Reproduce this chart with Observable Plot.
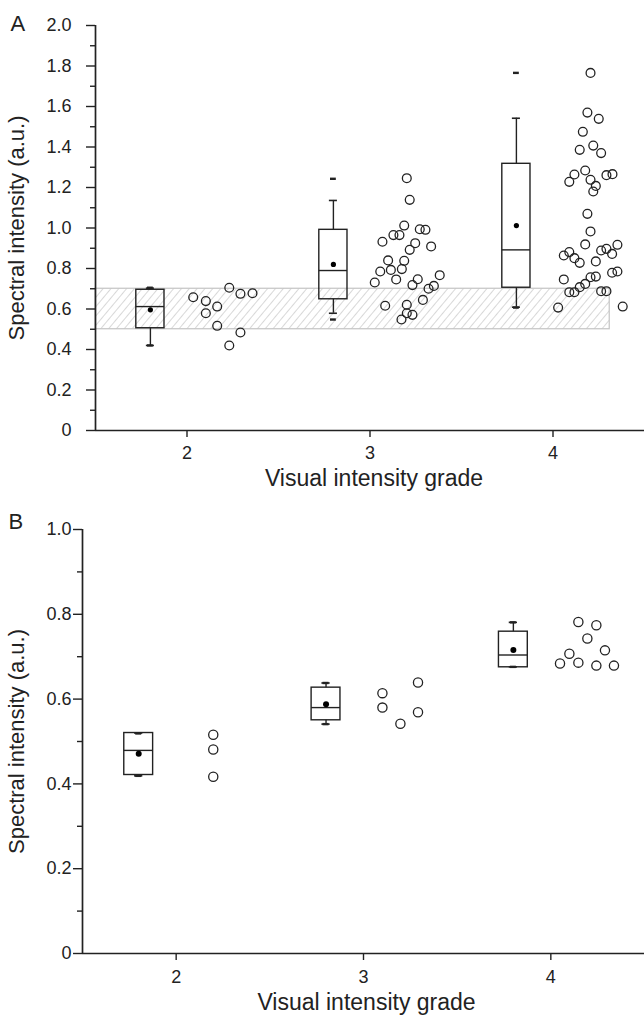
<!DOCTYPE html>
<html><head><meta charset="utf-8">
<script src="https://cdn.jsdelivr.net/npm/d3@7"></script>
<script src="https://cdn.jsdelivr.net/npm/@observablehq/plot@0.6"></script>
<style>body{margin:0;background:#fff;} svg{display:block;}</style>
</head><body><div id="chart"></div>
<script>
// ---------- shared ----------
const grades = [2, 3, 4];
const xTicks = [2, 3, 4];
const xLabel = "Visual intensity grade";
const yLabel = "Spectral intensity (a.u.)";

// ---------- Panel A ----------
const aYMajor = [0, 0.2, 0.4, 0.6, 0.8, 1.0, 1.2, 1.4, 1.6, 1.8, 2.0];
const aYMinor = [0.1, 0.3, 0.5, 0.7, 0.9, 1.1, 1.3, 1.5, 1.7, 1.9];
const aQ1 = [0.505, 0.648, 0.705];
const aMedian = [0.612, 0.790, 0.892];
const aQ3 = [0.695, 0.991, 1.317];
const aMean = [0.596, 0.820, 1.012];
const aWhiskerLo = [0.420, 0.579, 0.609];
const aWhiskerHi = [0.703, 1.136, 1.542];
const aMin = [0.420, 0.548, 0.607];
const aMax = [0.705, 1.243, 1.766];
const aRefBand = [0.5, 0.7];          // reference range (hatched)
const aRefBandX = [1.5, 4.31];

const a2x = [2.034, 2.103, 2.165, 2.103, 2.165, 2.231, 2.292, 2.358, 2.292, 2.231];
const a2y = [0.658, 0.639, 0.612, 0.579, 0.517, 0.705, 0.675, 0.678, 0.484, 0.420];
const a3x = [3.187, 3.128, 3.161, 3.272, 3.303, 3.068, 3.247, 3.217, 3.334, 3.099, 3.187, 3.056, 3.114, 3.174, 3.143, 3.026, 3.261, 3.232, 3.381, 3.349, 3.320, 3.289, 3.083, 3.201, 3.201, 3.232, 3.172, 3.201, 3.217];
const a3y = [1.012, 0.965, 0.965, 0.994, 0.991, 0.932, 0.925, 0.892, 0.909, 0.840, 0.838, 0.785, 0.793, 0.797, 0.746, 0.731, 0.747, 0.718, 0.767, 0.714, 0.700, 0.645, 0.616, 0.621, 0.579, 0.571, 0.548, 1.246, 1.139];
const a4x = [4.205, 4.188, 4.250, 4.163, 4.146, 4.220, 4.263, 4.176, 4.117, 4.089, 4.205, 4.234, 4.220, 4.292, 4.325, 4.188, 4.205,
             4.176, 4.059, 4.089, 4.117, 4.146, 4.234, 4.263, 4.292, 4.323, 4.352, 4.059, 4.205, 4.234, 4.176, 4.146, 4.117, 4.089, 4.263, 4.292, 4.323, 4.352, 4.028, 4.381];
const a4y = [1.766, 1.570, 1.539, 1.475, 1.386, 1.407, 1.370, 1.284, 1.264, 1.228, 1.238, 1.208, 1.180, 1.261, 1.266, 1.070, 0.983,
             0.919, 0.864, 0.881, 0.851, 0.828, 0.835, 0.889, 0.897, 0.872, 0.917, 0.746, 0.757, 0.760, 0.724, 0.708, 0.683, 0.683, 0.688, 0.688, 0.779, 0.785, 0.607, 0.612];

// ---------- Panel B ----------
const bYMajor = [0, 0.2, 0.4, 0.6, 0.8, 1.0];
const bYMinor = [0.1, 0.3, 0.5, 0.7, 0.9];
const bQ1 = [0.421, 0.550, 0.675];
const bMedian = [0.479, 0.580, 0.704];
const bQ3 = [0.520, 0.627, 0.759];
const bMean = [0.471, 0.588, 0.716];
const bWhiskerLo = [0.419, 0.541, 0.676];
const bWhiskerHi = [0.520, 0.638, 0.781];
const bMin = [0.419, 0.541, 0.676];
const bMax = [0.519, 0.638, 0.781];

const b2x = [2.198, 2.198, 2.198];
const b2y = [0.516, 0.481, 0.417];
const b3x = [3.101, 3.101, 3.197, 3.291, 3.291];
const b3y = [0.614, 0.580, 0.542, 0.639, 0.569];
const b4x = [4.147, 4.243, 4.195, 4.289, 4.099, 4.049, 4.147, 4.243, 4.337];
const b4y = [0.782, 0.774, 0.743, 0.715, 0.707, 0.684, 0.686, 0.679, 0.679];

// ---------- helpers ----------
const FONT = "'Liberation Sans', Arial, Helvetica, sans-serif";
const INK = "#222";
const BOX_OFF = 0.2, BOX_HALF = 0.077, CAP_HALF = 0.022, DASH_HALF = 0.016;

function boxRows(q1, med, q3, mean, wlo, whi, mn, mx) {
  return grades.map((g, i) => ({c: g - BOX_OFF, q1: q1[i], med: med[i], q3: q3[i], mean: mean[i], wlo: wlo[i], whi: whi[i], mn: mn[i], mx: mx[i]}));
}
function pts(xs, ys) { return xs.map((x, i) => ({x, y: ys[i]})); }

function panel(o) {
  const boxes = o.boxes;
  const marks = [];
  if (o.band) {
    marks.push(Plot.rect([o.band], {x1: d => d.x1, x2: d => d.x2, y1: d => d.y1, y2: d => d.y2, fill: "url(#hatchA)", stroke: "#c4c4c4", strokeWidth: 1.2}));
  }
  marks.push(
    Plot.ruleX(boxes, {x: "c", y1: "wlo", y2: "q1", stroke: INK, strokeWidth: 1.4}),
    Plot.ruleX(boxes, {x: "c", y1: "q3", y2: "whi", stroke: INK, strokeWidth: 1.4}),
    Plot.ruleY(boxes, {y: "wlo", x1: d => d.c - CAP_HALF, x2: d => d.c + CAP_HALF, stroke: INK, strokeWidth: 1.6}),
    Plot.ruleY(boxes, {y: "whi", x1: d => d.c - CAP_HALF, x2: d => d.c + CAP_HALF, stroke: INK, strokeWidth: 1.6}),
    Plot.ruleY(boxes, {y: "mn", x1: d => d.c - DASH_HALF, x2: d => d.c + DASH_HALF, stroke: INK, strokeWidth: 2.4}),
    Plot.ruleY(boxes, {y: "mx", x1: d => d.c - DASH_HALF, x2: d => d.c + DASH_HALF, stroke: INK, strokeWidth: 2.4}),
    Plot.rect(boxes, {x1: d => d.c - BOX_HALF, x2: d => d.c + BOX_HALF, y1: "q1", y2: "q3", fill: "none", stroke: INK, strokeWidth: 1.4}),
    Plot.ruleY(boxes, {y: "med", x1: d => d.c - BOX_HALF, x2: d => d.c + BOX_HALF, stroke: INK, strokeWidth: 1.4}),
    Plot.dot(boxes, {x: "c", y: "mean", r: o.meanR, fill: "#000", stroke: "none"}),
    Plot.dot(o.points, {x: "x", y: "y", r: o.pointR, fill: "none", stroke: INK, strokeWidth: 1.3}),
    // axes
    Plot.axisY({ticks: o.yMajor, tickSize: 9, tickPadding: o.yPad, tickFormat: d => d === 0 ? "0" : d.toFixed(1), fontSize: o.tickFont, stroke: INK, strokeWidth: 1.4, label: null}),
    Plot.axisY({ticks: o.yMinor, tickSize: 5, tickFormat: () => "", stroke: INK, strokeWidth: 1.4, label: null}),
    Plot.axisX({ticks: xTicks, tickSize: 7, tickPadding: o.xPad, tickFormat: d => String(d), fontSize: o.tickFont, stroke: INK, strokeWidth: 1.4, label: null}),
    Plot.ruleX([1.5], {stroke: INK, strokeWidth: 1.7}),
    Plot.ruleY([0], {stroke: INK, strokeWidth: 1.7}),
    Plot.text([o.letter], {frameAnchor: "top-left", dx: o.letterDx, dy: o.letterDy, textAnchor: "start", lineAnchor: "middle", fontSize: 22, fill: INK}),
    Plot.text([yLabel], {frameAnchor: "left", rotate: -90, dx: o.yLabDx, textAnchor: "middle", lineAnchor: "middle", fontSize: 22, fill: INK}),
    Plot.text([xLabel], {frameAnchor: "bottom", dx: o.xLabDx, dy: o.xLabDy, textAnchor: "middle", lineAnchor: "middle", fontSize: 23, fill: INK})
  );
  const svg = Plot.plot({
    width: 644, height: o.height,
    marginLeft: o.ml, marginRight: 0, marginTop: o.mt, marginBottom: o.mb,
    x: {domain: [1.5, 4.5], label: null},
    y: {domain: o.yDomain, label: null},
    style: {fontFamily: FONT, background: "#fff", color: INK, overflow: "visible"},
    marks
  });
  if (o.band) {
    d3.select(svg).insert("defs", ":first-child").html(
      '<pattern id="hatchA" patternUnits="userSpaceOnUse" width="6" height="6" patternTransform="rotate(40)">' +
      '<rect width="6" height="6" fill="#fff"/><line x1="0" y1="0" x2="0" y2="6" stroke="#b8b8b8" stroke-width="1.1"/></pattern>');
  }
  return svg;
}

const chart = document.getElementById("chart");
chart.appendChild(panel({
  letter: "A", height: 490, ml: 95, mt: 25, mb: 60, yDomain: [0, 2],
  yMajor: aYMajor, yMinor: aYMinor, yPad: 15, xPad: 8.5, tickFont: 18,
  boxes: boxRows(aQ1, aMedian, aQ3, aMean, aWhiskerLo, aWhiskerHi, aMin, aMax),
  points: [...pts(a2x, a2y), ...pts(a3x, a3y), ...pts(a4x, a4y)],
  band: {x1: aRefBandX[0], x2: aRefBandX[1], y1: aRefBand[0], y2: aRefBand[1]},
  meanR: 2.6, pointR: 4.4,
  letterDx: -85, letterDy: -2, yLabDx: -79, xLabDx: 4, xLabDy: 48
}));
chart.appendChild(panel({
  letter: "B", height: 525, ml: 82, mt: 39, mb: 62, yDomain: [0, 1],
  yMajor: bYMajor, yMinor: bYMinor, yPad: 2, xPad: 10, tickFont: 18,
  boxes: boxRows(bQ1, bMedian, bQ3, bMean, bWhiskerLo, bWhiskerHi, bMin, bMax),
  points: [...pts(b2x, b2y), ...pts(b3x, b3y), ...pts(b4x, b4y)],
  band: null,
  meanR: 3, pointR: 4.6,
  letterDx: -74, letterDy: -8, yLabDx: -66, xLabDx: 3, xLabDy: 49
}));
</script>
</body></html>
